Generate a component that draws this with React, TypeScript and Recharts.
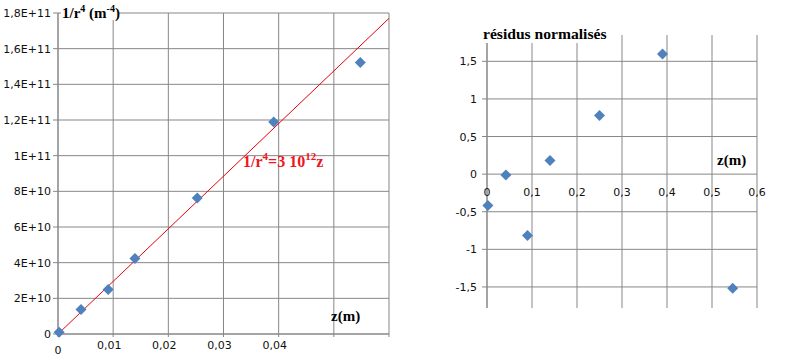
import React from 'react';
import { ScatterChart, Scatter, XAxis, YAxis, CartesianGrid } from 'recharts';

// ---- Left chart data: 1/r^4 vs z ----
const leftZ = [0.0002, 0.00417, 0.0091, 0.01395, 0.02524, 0.0391, 0.0548];
const leftV = [1e9, 1.38e10, 2.5e10, 4.24e10, 7.62e10, 1.189e11, 1.522e11];
const fitZ = [0, 0.06];
const fitV = [0, 1.77e11];
const leftXTicks = [0, 0.01, 0.02, 0.03, 0.04, 0.05, 0.06];
const leftXLabels = ['0', '0,01', '0,02', '0,03', '0,04', '', ''];
const leftYTicks = [0, 2e10, 4e10, 6e10, 8e10, 1e11, 1.2e11, 1.4e11, 1.6e11, 1.8e11];
const leftYLabels = ['0', '2E+10', '4E+10', '6E+10', '8E+10', '1E+11', '1,2E+11', '1,4E+11', '1,6E+11', '1,8E+11'];

// ---- Right chart data: normalised residuals vs z ----
const rightZ = [0.002, 0.042, 0.09, 0.14, 0.25, 0.39, 0.546];
const rightR = [-0.418, -0.01, -0.816, 0.181, 0.779, 1.596, -1.516];
const rightXTicks = [0, 0.1, 0.2, 0.3, 0.4, 0.5, 0.6];
const rightXLabels = ['0', '0,1', '0,2', '0,3', '0,4', '0,5', '0,6'];
const rightYTicks = [-1.5, -1, -0.5, 0, 0.5, 1, 1.5];
const rightYLabels = ['-1,5', '-1', '-0,5', '0', '0,5', '1', '1,5'];

const leftPoints = leftZ.map((z, i) => ({ z, v: leftV[i] }));
const fitPoints = fitZ.map((z, i) => ({ z, v: fitV[i] }));
const rightPoints = rightZ.map((z, i) => ({ z, r: rightR[i] }));
const rightAxisLabelPoints = rightXTicks.map((z, i) => ({ z, r: 0, label: rightXLabels[i] }));

const GRID = '#878787';
const MARKER = '#4F81BD';
const TICK_FONT = { fontFamily: 'DejaVu Sans', fontSize: 11, fill: '#111' };
const SERIF = 'Liberation Serif';

const Diamond = (props: any) => {
  const { cx, cy } = props;
  if (cx == null || cy == null) return null;
  const s = 5.5;
  return (
    <polygon
      points={`${cx},${cy - s} ${cx + s},${cy} ${cx},${cy + s} ${cx - s},${cy}`}
      fill={MARKER}
    />
  );
};

const NoShape = () => null;

const LeftXTick = (props: any) => {
  const { x, y, payload } = props;
  const label = leftXLabels[leftXTicks.indexOf(payload.value)] ?? '';
  if (!label) return null;
  const isZero = payload.value === 0;
  return (
    <text x={isZero ? x : x - 4} y={y + (isZero ? 17 : 12)} textAnchor="middle" {...TICK_FONT}>
      {label}
    </text>
  );
};

const LeftYTick = (props: any) => {
  const { x, y, payload } = props;
  const label = leftYLabels[leftYTicks.indexOf(payload.value)] ?? '';
  return (
    <text x={x - 2} y={y + 4} textAnchor="end" {...TICK_FONT}>
      {label}
    </text>
  );
};

const RightYTick = (props: any) => {
  const { x, y, payload } = props;
  const label = rightYLabels[rightYTicks.indexOf(payload.value)] ?? '';
  return (
    <text x={x - 5} y={y + 4} textAnchor="end" {...TICK_FONT}>
      {label}
    </text>
  );
};

const AxisLabelShape = (props: any) => {
  const { cx, cy, payload } = props;
  if (cx == null || cy == null) return null;
  const label = payload?.label ?? '';
  return (
    <text x={cx} y={cy + 22} textAnchor="middle" {...TICK_FONT}>
      {label}
    </text>
  );
};

export default function App() {
  return (
    <div style={{ position: 'absolute', left: 0, top: 0, width: 790, height: 361, background: '#fff' }}>
      <div style={{ position: 'absolute', left: 0, top: 0 }}>
        <ScatterChart width={400} height={361} margin={{ top: 13, right: 11, bottom: 0, left: 0 }}>
          <CartesianGrid stroke={GRID} strokeWidth={1} />
          <XAxis
            type="number"
            dataKey="z"
            domain={[0, 0.06]}
            ticks={leftXTicks}
            interval={0}
            height={27}
            axisLine={{ stroke: GRID }}
            tickLine={{ stroke: GRID }}
            tickSize={3}
            tickMargin={0}
            tick={<LeftXTick />}
          />
          <YAxis
            type="number"
            dataKey="v"
            domain={[0, 1.8e11]}
            ticks={leftYTicks}
            interval={0}
            width={58}
            axisLine={{ stroke: GRID }}
            tickLine={{ stroke: GRID }}
            tickSize={5}
            tickMargin={0}
            tick={<LeftYTick />}
          />
          <Scatter
            data={fitPoints}
            line={{ stroke: '#E8000B', strokeWidth: 1 }}
            lineType="joint"
            shape={<NoShape />}
            isAnimationActive={false}
          />
          <Scatter data={leftPoints} shape={<Diamond />} isAnimationActive={false} />
        </ScatterChart>
      </div>
      <div style={{ position: 'absolute', left: 420, top: 0 }}>
        <ScatterChart width={370} height={361} margin={{ top: 35, right: 33, bottom: 53, left: 0 }}>
          <CartesianGrid stroke={GRID} strokeWidth={1} horizontalValues={rightYTicks} verticalValues={rightXTicks} />
          <XAxis
            type="number"
            dataKey="z"
            domain={[0, 0.6]}
            ticks={rightXTicks}
            interval={0}
            hide
          />
          <YAxis
            type="number"
            dataKey="r"
            domain={[-1.78, 1.85]}
            ticks={rightYTicks}
            interval={0}
            width={67}
            axisLine={{ stroke: GRID }}
            tickLine={{ stroke: GRID }}
            tickSize={5}
            tickMargin={0}
            tick={<RightYTick />}
          />
          <Scatter data={rightAxisLabelPoints} shape={<AxisLabelShape />} isAnimationActive={false} />
          <Scatter data={rightPoints} shape={<Diamond />} isAnimationActive={false} />
        </ScatterChart>
      </div>
      <svg
        width={790}
        height={361}
        style={{ position: 'absolute', left: 0, top: 0, pointerEvents: 'none' }}
      >
        <rect x={61} y={5} width={58} height={15} fill="#fff" />
        <text x={62} y={18} fontFamily={SERIF} fontWeight="bold" fontSize={15} fill="#000">
          1/r<tspan fontSize={10} dy={-6}>4</tspan>
          <tspan dy={6}> (m</tspan>
          <tspan fontSize={10} dy={-6}>-4</tspan>
          <tspan dy={6}>)</tspan>
        </text>
        <text x={331} y={321} fontFamily={SERIF} fontWeight="bold" fontSize={15} fill="#000">
          z(m)
        </text>
        <text x={243} y={167} fontFamily={SERIF} fontWeight="bold" fontSize={16} fill="#F0141E">
          1/r<tspan fontSize={11} dy={-7}>4</tspan>
          <tspan dy={7}>=3 10</tspan>
          <tspan fontSize={11} dy={-7}>12</tspan>
          <tspan dy={7}>z</tspan>
        </text>
        <rect x={482} y={26} width={127} height={17} fill="#fff" />
        <text x={483} y={39} fontFamily={SERIF} fontWeight="bold" fontSize={15.6} fill="#000">
          résidus normalisés
        </text>
        <text x={717} y={165} fontFamily={SERIF} fontWeight="bold" fontSize={15} fill="#000">
          z(m)
        </text>
      </svg>
    </div>
  );
}
